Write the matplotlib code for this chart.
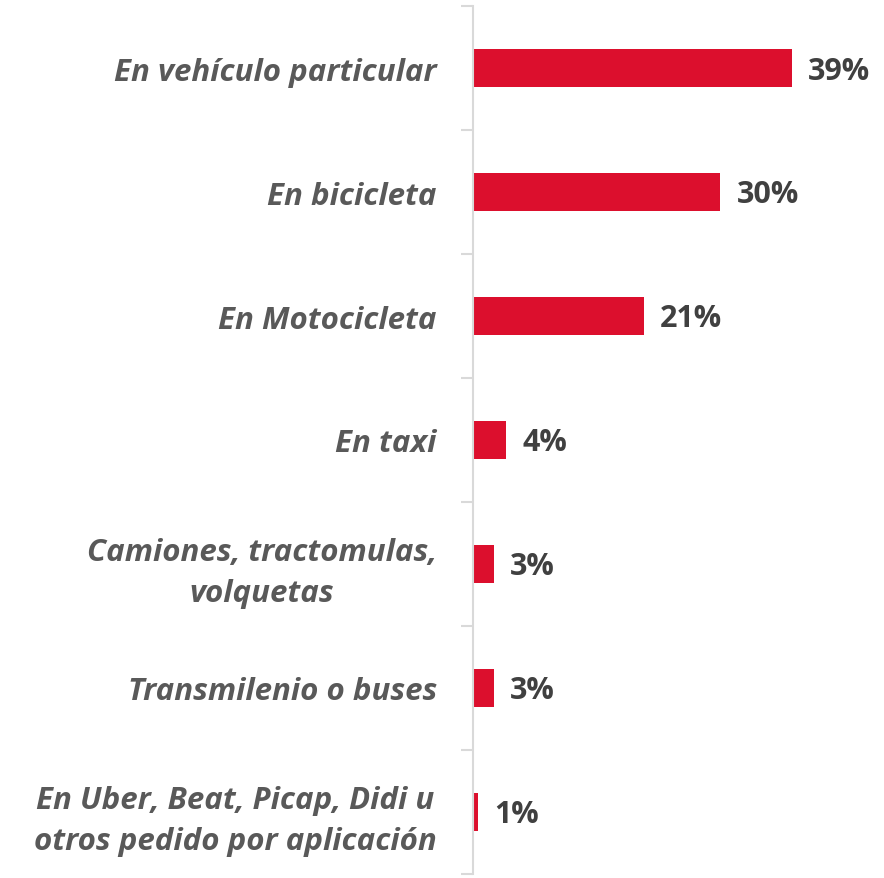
import matplotlib
matplotlib.use("Agg")
import matplotlib.pyplot as plt
import numpy as np

categories = [
    "En vehículo particular",
    "En bicicleta",
    "En Motocicleta",
    "En taxi",
    "Camiones, tractomulas,\nvolquetas",
    "Transmilenio o buses",
    "En Uber, Beat, Picap, Didi u\notros pedido por aplicación",
]
values = [39.2, 30.4, 21.0, 4.1, 2.6, 2.6, 0.6]

BAR_RED = "#DC0F2D"
LABEL_GRAY = "#595959"
VALUE_GRAY = "#404040"
AXIS_GRAY = "#D9D9D9"

plt.rcParams["font.family"] = ["Open Sans", "DejaVu Sans"]

fig = plt.figure(figsize=(8.84, 8.79), dpi=100)
ax = fig.add_axes([0.535, 0.0046, 0.46, 0.9874])

y = np.arange(len(categories))
ax.barh(y, values, height=0.31, color=BAR_RED)

for yi, v in zip(y, values):
    ax.text(v + 2.0, yi + 0.02, f"{v:.0f}%", va="center", ha="left",
            fontsize=22, fontweight="bold", color=VALUE_GRAY)

ax.set_ylim(len(categories) - 0.5, -0.5)
ax.set_xlim(0, 50)

ax.set_yticks(y)
ax.set_yticklabels(categories, fontsize=22.5, fontweight="bold",
                   fontstyle="italic", color=LABEL_GRAY, ha="right",
                   multialignment="center", linespacing=1.45)
ax.tick_params(axis="y", which="major", length=0, pad=26)
ax.set_yticks(np.arange(-0.5, len(categories)), minor=True)
ax.tick_params(axis="y", which="minor", length=9, width=1.5, color=AXIS_GRAY)

ax.set_xticks([])
for side in ["top", "right", "bottom"]:
    ax.spines[side].set_visible(False)
ax.spines["left"].set_color(AXIS_GRAY)
ax.spines["left"].set_linewidth(1.5)

fig.savefig("out.png", dpi=100)
